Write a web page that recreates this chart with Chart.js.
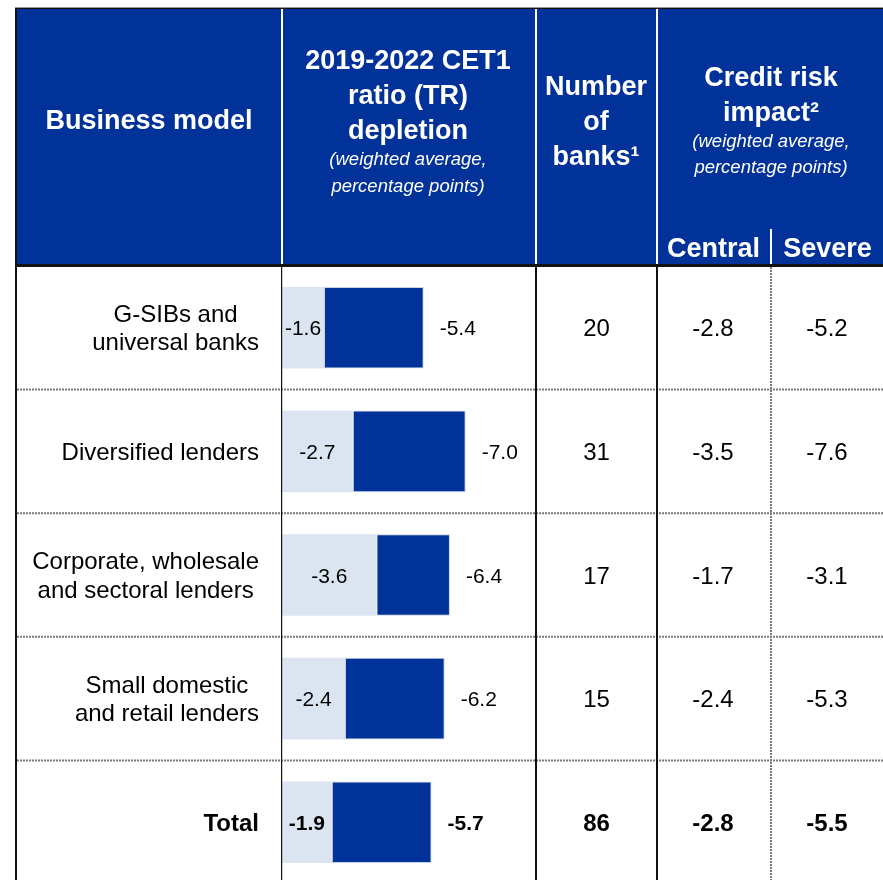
<!DOCTYPE html>
<html>
<head>
<meta charset="utf-8">
<script src="https://cdn.jsdelivr.net/npm/chart.js@4.4.1/dist/chart.umd.min.js"></script>
<style>
html, body { margin: 0; padding: 0; overflow: hidden; background: #fff; }
canvas { display: block; }
</style>
</head>
<body>
<canvas id="myChart" width="883" height="884"></canvas>
<script>
// table data
const categories = [
    ['G-SIBs and', 'universal banks'],
    ['Diversified lenders'],
    ['Corporate, wholesale', 'and sectoral lenders'],
    ['Small domestic', 'and retail lenders'],
    ['Total']
];
const lightPart = [-1.6, -2.7, -3.6, -2.4, -1.9];
const totalDepletion = [-5.4, -7.0, -6.4, -6.2, -5.7];
const numberOfBanks = [20, 31, 17, 15, 86];
const centralImpact = [-2.8, -3.5, -1.7, -2.4, -2.8];
const severeImpact = [-5.2, -7.6, -3.1, -5.3, -5.5];
const axisMax = 9.68;

const blue = '#003299';
const lightBlue = '#dbe4f1';
const family = '"Liberation Sans", Arial, sans-serif';

function text(ctx, s, x, y, font, color, align) {
    ctx.font = font;
    ctx.fillStyle = color;
    ctx.textAlign = align || 'center';
    ctx.textBaseline = 'alphabetic';
    ctx.fillText(s, x, y);
}

function dotted(ctx, x1, y1, x2, y2) {
    ctx.save();
    ctx.strokeStyle = '#7a7a7a';
    ctx.lineWidth = 2;
    ctx.setLineDash([2, 1]);
    ctx.beginPath();
    ctx.moveTo(x1, y1);
    ctx.lineTo(x2, y2);
    ctx.stroke();
    ctx.restore();
}

const tablePlugin = {
    id: 'tablePlugin',
    beforeDraw(chart) {
        const ctx = chart.ctx;
        ctx.save();
        // header block
        ctx.fillStyle = '#9a9a9a';
        ctx.fillRect(15, 7, 868, 1);
        ctx.fillStyle = '#111';
        ctx.fillRect(15, 8, 868, 1.5);
        ctx.fillStyle = blue;
        ctx.fillRect(17, 9, 866, 255);
        ctx.fillStyle = '#fff';
        ctx.fillRect(281, 9, 2, 255);
        ctx.fillRect(535, 9, 2, 255);
        ctx.fillRect(656, 9, 2, 255);
        ctx.fillRect(770, 229, 2, 35);

        const bold = 'bold 27px ' + family;
        const ital = 'italic 18.5px ' + family;
        text(ctx, 'Business model', 149, 129, bold, '#fff');

        text(ctx, '2019-2022 CET1', 408, 69, bold, '#fff');
        text(ctx, 'ratio (TR)', 408, 104, bold, '#fff');
        text(ctx, 'depletion', 408, 139, bold, '#fff');
        text(ctx, '(weighted average,', 408, 165, ital, '#fff');
        text(ctx, 'percentage points)', 408, 191.5, ital, '#fff');

        text(ctx, 'Number', 596, 95, bold, '#fff');
        text(ctx, 'of', 596, 130, bold, '#fff');
        text(ctx, 'banks\u00b9', 596, 165, bold, '#fff');

        text(ctx, 'Credit risk', 771, 86, bold, '#fff');
        text(ctx, 'impact\u00b2', 771, 120.5, bold, '#fff');
        text(ctx, '(weighted average,', 771, 146.5, ital, '#fff');
        text(ctx, 'percentage points)', 771, 173, ital, '#fff');
        text(ctx, 'Central', 713.5, 257, bold, '#fff');
        text(ctx, 'Severe', 827.5, 257, bold, '#fff');
        ctx.restore();
    },
    afterDraw(chart) {
        const ctx = chart.ctx;
        const y = chart.scales.y;
        const n = categories.length;
        ctx.save();

        // row separators
        for (let i = 0; i < n - 1; i++) {
            const yy = (y.getPixelForValue(i) + y.getPixelForValue(i + 1)) / 2;
            dotted(ctx, 17, yy, 883, yy);
        }
        dotted(ctx, 771, 267, 771, 884);

        // verticals
        ctx.fillStyle = '#111';
        ctx.fillRect(15, 8, 2, 876);
        ctx.fillRect(281, 267, 1.2, 617);
        ctx.fillRect(535, 267, 2, 617);
        ctx.fillRect(656, 267, 2, 617);
        ctx.fillRect(15, 264, 868, 3);

        const light = chart.getDatasetMeta(0).data;
        const dark = chart.getDatasetMeta(1).data;

        for (let i = 0; i < n; i++) {
            const cy = y.getPixelForValue(i);
            const isTotal = i === n - 1;
            const f = (isTotal ? 'bold ' : '') + '24px ' + family;
            const fs = (isTotal ? 'bold ' : '') + '21px ' + family;

            // business model label block, centred lines, right edge at 259
            const lines = categories[i];
            ctx.font = f;
            const w = Math.max(...lines.map(l => ctx.measureText(l).width));
            lines.forEach((l, j) => {
                text(ctx, l, 259 - w / 2, cy + 8.5 + (j - (lines.length - 1) / 2) * 28.3, f, '#000');
            });

            // bar labels
            const lb = light[i];
            text(ctx, lightPart[i].toFixed(1), (lb.x + lb.base) / 2, lb.y + 7.5, fs, '#000');
            text(ctx, totalDepletion[i].toFixed(1), dark[i].x + 16, dark[i].y + 7.5, fs, '#000', 'left');

            text(ctx, String(numberOfBanks[i]), 596.5, cy + 8.5, f, '#000');
            text(ctx, centralImpact[i].toFixed(1), 713, cy + 8.5, f, '#000');
            text(ctx, severeImpact[i].toFixed(1), 827, cy + 8.5, f, '#000');
        }
        ctx.restore();
    }
};

const data = {
    labels: categories.map(c => c.join(' ')),
    datasets: [{
        label: 'part',
        data: lightPart.map(v => Math.abs(v)),
        backgroundColor: lightBlue,
        borderWidth: 0
    },
    {
        label: 'total',
        data: totalDepletion.map((v, i) => Math.abs(v) - Math.abs(lightPart[i])),
        backgroundColor: blue,
        borderColor: '#c8d2e6',
        borderWidth: 1,
        borderSkipped: false
    }]
};

const config = {
    type: 'bar',
    data: data,
    options: {
        indexAxis: 'y',
        responsive: false,
        animation: false,
        devicePixelRatio: 1,
        categoryPercentage: 1,
        barPercentage: 0.66,
        layout: {
            padding: { left: 282, right: 347, top: 266, bottom: 0 }
        },
        scales: {
            x: { display: false, stacked: true, min: 0, max: axisMax },
            y: { display: false, stacked: true }
        },
        plugins: {
            legend: { display: false },
            tooltip: { enabled: false }
        }
    },
    plugins: [tablePlugin]
};

const myChart = new Chart(document.getElementById('myChart'), config);
</script>
</body>
</html>
